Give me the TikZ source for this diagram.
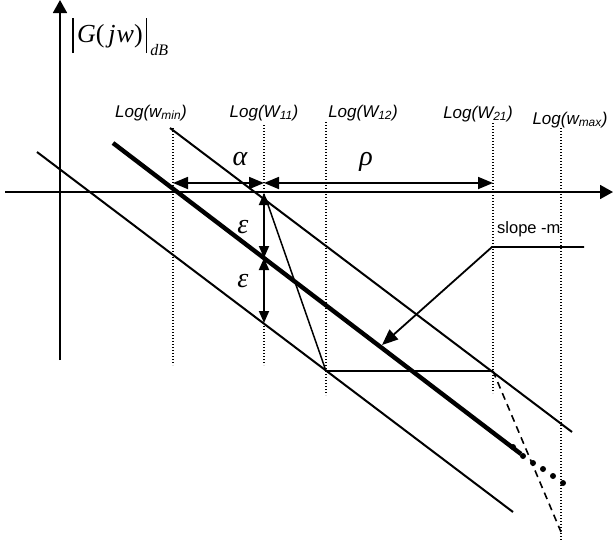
\documentclass[tikz,border=0pt]{standalone}
\usepackage{fontspec}
\usepackage{tikz}
\usetikzlibrary{arrows.meta,positioning,calc}
\newfontfamily\lsans{Liberation Sans}
\newfontfamily\lserif{Liberation Serif}
\tikzset{
  axis/.style={line width=1.8pt,-{Triangle[length=13pt,width=14pt]}},
  asym/.style={line width=2pt},
  mainline/.style={line width=4.4pt},
  guide/.style={line width=1.4pt,dash pattern=on 1.4pt off 1.6pt},
  dim/.style={line width=1.8pt,{Triangle[length=15pt,width=12pt]}-{Triangle[length=15pt,width=12pt]}},
  epsarr/.style={line width=1.8pt,{Triangle[length=12pt,width=10pt]}-{Triangle[length=12pt,width=10pt]}},
  leader/.style={line width=1.8pt,-{Triangle[length=16pt,width=13pt]}},
  freq/.style={font=\lsans\itshape\fontsize{17}{20}\selectfont,anchor=base,inner sep=0pt},
  greek/.style={font=\lserif\itshape\fontsize{28}{32}\selectfont,anchor=base,inner sep=0pt},
  dot/.style={fill=black}
}

\begin{document}
\begin{tikzpicture}[x=1pt,y=-1pt]
  \useasboundingbox (0,0) rectangle (613,541);

  % axes
  \coordinate (ybot) at (60,360);
  \coordinate (ytop) at (60,0);
  \coordinate (xleft) at (5,192);
  \coordinate (xright) at (613,192);
  \draw[axis] (ybot) -- (ytop);
  \draw[axis] (xleft) -- (xright);

  \node[anchor=base west,inner sep=0pt,font=\lserif\fontsize{26}{30}\selectfont]
    (gain) at (72,42)
    {\rule[-11pt]{1.8pt}{35pt}\kern3pt\textit{G}(\kern4pt\textit{j}\kern1pt\textit{w})\kern3pt\rule[-11pt]{1.8pt}{35pt}\kern3pt\raisebox{-13pt}{\fontsize{16}{16}\selectfont\textit{dB}}};

  % frequency guides
  \foreach \name/\x/\top/\bot in {wmin/173/128/365,w11/264/125/365,w12/326/122/395,w21/493/123/393,wmax/561/128/541}{
    \coordinate (\name-t) at (\x,\top);
    \coordinate (\name-b) at (\x,\bot);
    \draw[guide] (\name-t) -- (\name-b);
  }

  \node[freq] (lwmin) at (151,117) {Log(w\textsubscript{min})};
  \node[freq] (lw11) at (264,117) {Log(W\textsubscript{11})};
  \node[freq] (lw12) at (363,117) {Log(W\textsubscript{12})};
  \node[freq] (lw21) at (478,118) {Log(W\textsubscript{21})};
  \node[freq] (lwmax) at (570,124) {Log(w\textsubscript{max})};

  % asymptotes of slope -m
  \coordinate (up-a) at (170,128);
  \coordinate (up-b) at (572,432);
  \coordinate (mid-a) at (113,143);
  \coordinate (mid-b) at (521,454);
  \coordinate (lo-a) at (37,152);
  \coordinate (lo-b) at (513,512);
  \draw[asym] (up-a) -- (up-b);
  \draw[mainline] (mid-a) -- (mid-b);
  \draw[asym] (lo-a) -- (lo-b);

  \foreach \x/\y in {513/447,523/456,533/463,543/469,553/476,563/483}
    \fill[dot] (\x,\y) circle (3pt);

  % corner path
  \coordinate (c1) at (266,199);
  \coordinate (c2) at (326,371);
  \coordinate (c3) at (493,371);
  \coordinate (c4) at (561,532);
  \draw[line width=1.5pt] (c1) -- (c2);
  \draw[line width=1.8pt] (c2) -- (c3);
  \draw[line width=1.6pt,dash pattern=on 7pt off 5pt] (c3) -- (c4);

  % dimensions
  \coordinate (da) at (173,183);
  \coordinate (db) at (264,183);
  \coordinate (dc) at (493,183);
  \draw[dim] (da) -- (db);
  \draw[dim] (db) -- (dc);
  \node[greek] (alpha) at (240,165) {α};
  \node[greek] (rho) at (366,165) {ρ};

  \coordinate (e0) at (264,193);
  \coordinate (e1) at (264,258);
  \coordinate (e2) at (264,323);
  \draw[epsarr] (e0) -- (e1);
  \draw[epsarr] (e1) -- (e2);
  \node[greek] (eps1) at (243,233) {ε};
  \node[greek] (eps2) at (243,287) {ε};

  % slope label
  \node[anchor=base west,inner sep=0pt,font=\lsans\fontsize{16.5}{19}\selectfont]
    (slope) at (497,233) {slope -m};
  \coordinate (sl-e) at (584,247);
  \coordinate (sl-k) at (492,247);
  \coordinate (sl-t) at (382,345);
  \draw[leader] (sl-e) -- (sl-k) -- (sl-t);
\end{tikzpicture}
\end{document}
